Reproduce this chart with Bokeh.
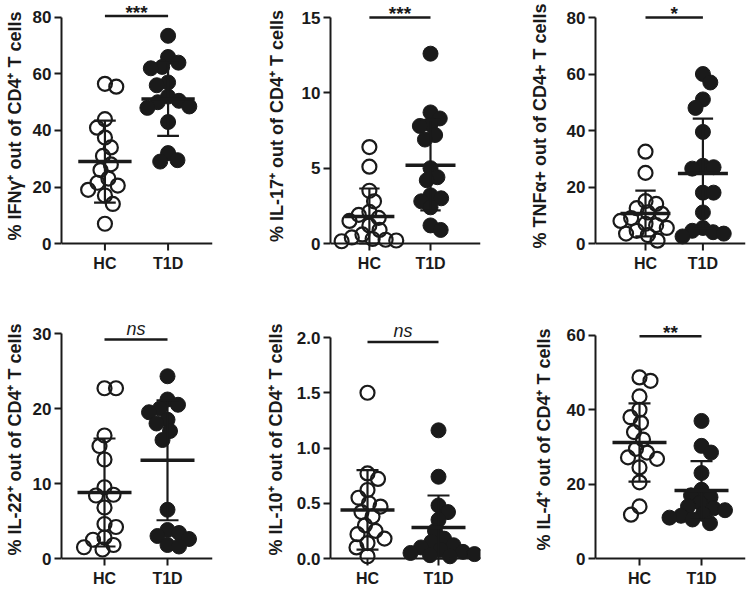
import numpy as np
from bokeh.plotting import figure
from bokeh.layouts import gridplot
from bokeh.models import FixedTicker, Range1d, Span
from bokeh.core.properties import value
from bokeh.embed import file_html
from bokeh.resources import INLINE

# ---------------- data ----------------
groups = ["HC", "T1D"]

ifng_hc = [56.5, 55.5, 44, 41, 37.5, 34, 31, 28, 26, 23, 21.5, 20.5, 19, 17, 14, 7]
ifng_t1d = [73.5, 66, 64, 62.5, 62, 57, 56, 52, 50.5, 50, 48.5, 48, 43, 32, 29.5, 29]

il17_hc = [6.4, 5.1, 3.5, 2.8, 2.1, 1.9, 1.7, 1.5, 1.2, 0.9, 0.6, 0.4, 0.3, 0.25, 0.2, 0.15]
il17_t1d = [12.6, 8.7, 8.3, 7.9, 7.8, 7.2, 6.9, 5.0, 4.4, 4.2, 3.2, 3.0, 2.8, 2.4, 1.2, 0.9]

tnfa_hc = [32.5, 25, 15, 14, 12.5, 11, 10.5, 9, 8, 7, 6.5, 5.5, 4.5, 3.5, 3, 1]
tnfa_t1d = [60, 57, 51, 48, 39.5, 27.5, 27, 26.5, 18, 18, 11, 5.5, 4.5, 4, 3.5, 2.5]

il22_hc = [22.7, 22.7, 16.4, 15, 13.2, 9.5, 8.5, 8.4, 6.8, 4.6, 4.2, 2.8, 2.5, 1.8, 1.5, 1.2]
il22_t1d = [24.3, 21.2, 20.5, 20.0, 19.5, 18.5, 18, 17, 15.8, 6.5, 3.8, 3.4, 3.0, 2.6, 1.8, 1.6]

il10_hc = [1.5, 0.77, 0.72, 0.62, 0.55, 0.5, 0.47, 0.42, 0.38, 0.3, 0.25, 0.22, 0.18, 0.14, 0.1, 0.02]
il10_t1d = [1.16, 0.74, 0.48, 0.42, 0.35, 0.25, 0.18, 0.15, 0.12, 0.1, 0.08, 0.06, 0.05, 0.04, 0.03, 0.02]

il4_hc = [48.7, 47.8, 43.6, 40, 38, 36.5, 34, 32, 29.5, 28.5, 27.2, 26.8, 24.5, 20.5, 14, 11.8]
il4_t1d = [37, 30.3, 28.5, 23, 18.5, 17, 16.5, 15, 14, 13.5, 13, 12, 11.5, 11, 10.5, 9.5]

# group means and SD bars (HC, T1D)
means = [[29.0, 51.1], [1.8, 5.2], [10.6, 24.8], [8.8, 13.1], [0.44, 0.28], [31.2, 18.3]]
sds = [[14.5, 13.0], [1.85, 3.0], [8.1, 19.4], [7.2, 8.0], [0.36, 0.29], [10.5, 7.9]]

y_labels = [
    "% IFNγ⁺ out of CD4⁺ T cells",
    "% IL-17⁺ out of CD4⁺ T cells",
    "% TNFα+ out of CD4+ T cells",
    "% IL-22⁺ out of CD4⁺ T cells",
    "% IL-10⁺ out of CD4⁺ T cells",
    "% IL-4⁺ out of CD4⁺ T cells",
]
y_ticks = [[0, 20, 40, 60, 80], [0, 5, 10, 15], [0, 20, 40, 60, 80],
           [0, 10, 20, 30], [0, 0.5, 1.0, 1.5, 2.0], [0, 20, 40, 60]]
y_tick_labels = [["0", "20", "40", "60", "80"], ["0", "5", "10", "15"],
                 ["0", "20", "40", "60", "80"], ["0", "10", "20", "30"],
                 ["0.0", "0.5", "1.0", "1.5", "2.0"], ["0", "20", "40", "60"]]
sig_text = ["***", "***", "*", "ns", "ns", "**"]
sig_level = [80.5, 15.0, 80.0, 29.2, 1.96, 59.8]

data = [(ifng_hc, ifng_t1d), (il17_hc, il17_t1d), (tnfa_hc, tnfa_t1d),
        (il22_hc, il22_t1d), (il10_hc, il10_t1d), (il4_hc, il4_t1d)]

# ---------------- layout / style (pixels inside each figure) ----------------
layout = [
    dict(w=250, h=292, frame_top=0, axis=60, hc=104, t1d=168, end=213, top_px=17, zero_px=244, lab_standoff=5),
    dict(w=247, h=292, frame_top=0, axis=80, hc=122, t1d=188, end=242, top_px=17, zero_px=243, lab_standoff=12),
    dict(w=250, h=292, frame_top=0, axis=88, hc=142, t1d=204, end=250, top_px=17, zero_px=243, lab_standoff=14),
    dict(w=250, h=297, frame_top=20, axis=61, hc=104, t1d=167, end=212, top_px=41, zero_px=266, lab_standoff=5),
    dict(w=247, h=297, frame_top=20, axis=80, hc=117, t1d=188, end=230, top_px=45, zero_px=266, lab_standoff=8),
    dict(w=250, h=297, frame_top=20, axis=98, hc=142, t1d=204, end=248, top_px=43, zero_px=267, lab_standoff=10),
]
BELOW_ZERO = 8      # frame extends this many px below y=0 so dots at 0 are not clipped
INK = "#1a1a1a"
FONT = value("Liberation Sans")


def swarm(vals, xpp, ypp, d=11.5):
    """Beeswarm offsets (data units) so dots do not overlap too much."""
    vals = np.asarray(vals, dtype=float)
    order = np.argsort(-vals)
    placed = []
    offs = np.zeros(len(vals))
    side = 1
    for i in order:
        y = vals[i] * ypp
        best = None
        k = 0
        while best is None:
            cands = [0.0] if k == 0 else [side * k * 0.5, -side * k * 0.5]
            for xo in cands:
                if all((xo - px) ** 2 + (y - py) ** 2 >= d * d for px, py in placed):
                    best = xo
                    break
            k += 1
        if best != 0:
            side = -side
        placed.append((best, y))
        offs[i] = best / xpp
    return offs


figs = []
for idx in range(6):
    L = layout[idx]
    hc_vals, t1d_vals = data[idx]
    top_val = y_ticks[idx][-1]
    xpp = L["t1d"] - L["hc"]
    ypp = (L["zero_px"] - L["top_px"]) / top_val
    x0 = 1 - (L["hc"] - L["axis"]) / xpp
    x1 = 2 + (L["end"] - L["t1d"]) / xpp
    y1 = top_val + (L["top_px"] - L["frame_top"]) / ypp
    y0 = -BELOW_ZERO / ypp
    frame_bottom = L["zero_px"] + BELOW_ZERO

    p = figure(width=L["w"], height=L["h"], output_backend="svg", toolbar_location=None,
               x_range=Range1d(x0, x1), y_range=Range1d(y0, y1),
               min_border_left=L["axis"], min_border_right=L["w"] - L["end"],
               min_border_top=L["frame_top"], min_border_bottom=L["h"] - frame_bottom)
    p.outline_line_color = None
    p.xgrid.visible = False
    p.ygrid.visible = False
    p.background_fill_color = "white"
    p.border_fill_color = "white"

    # y axis
    ya = p.yaxis[0]
    ya.ticker = FixedTicker(ticks=y_ticks[idx])
    ya.major_label_overrides = {t: s for t, s in zip(y_ticks[idx], y_tick_labels[idx])}
    ya.bounds = (0, top_val)
    ya.axis_label = y_labels[idx]
    ya.axis_label_text_font = "Liberation Sans"
    ya.axis_label_text_font_style = "bold"
    ya.axis_label_text_font_size = "18px"
    ya.axis_label_text_color = INK
    ya.axis_label_standoff = L["lab_standoff"]
    ya.major_label_text_font = "Liberation Sans"
    ya.major_label_text_font_style = "bold"
    ya.major_label_text_font_size = "17px"
    ya.major_label_text_color = INK
    ya.major_label_standoff = 3
    ya.major_tick_out = 7
    ya.major_tick_in = 0
    ya.minor_tick_out = 0
    ya.minor_tick_in = 0
    ya.axis_line_width = 2
    ya.major_tick_line_width = 2
    ya.axis_line_color = INK
    ya.major_tick_line_color = INK

    # x axis: the bokeh axis (below the frame) carries only the group labels;
    # its line and ticks are drawn at y = 0
    xa = p.xaxis[0]
    xa.ticker = FixedTicker(ticks=[1, 2])
    xa.major_label_overrides = {i + 1: g for i, g in enumerate(groups)}
    xa.axis_line_color = None
    xa.major_tick_line_color = None
    xa.minor_tick_line_color = None
    xa.major_tick_out = 0
    xa.major_tick_in = 0
    xa.minor_tick_out = 0
    xa.minor_tick_in = 0
    xa.major_label_standoff = 3
    xa.major_label_text_font = "Liberation Sans"
    xa.major_label_text_font_style = "bold"
    xa.major_label_text_font_size = "16px"
    xa.major_label_text_color = INK
    p.add_layout(Span(location=0, dimension="width", line_color=INK, line_width=2))
    p.segment([1, 2], [0, 0], [1, 2], [-7 / ypp, -7 / ypp], line_color=INK, line_width=2)

    # points
    hc_x = 1 + swarm(hc_vals, xpp, ypp)
    t1d_x = 2 + swarm(t1d_vals, xpp, ypp)
    p.scatter(hc_x, hc_vals, size=14, fill_alpha=0, line_color=INK, line_width=2.2)
    p.scatter(t1d_x, t1d_vals, size=15, fill_color=INK, line_color=INK, line_width=1)

    # mean and SD
    hw = 27 / xpp
    cw = 11 / xpp
    gx = np.array([1.0, 2.0])
    m = np.array(means[idx])
    s = np.array(sds[idx])
    lo = np.maximum(m - s, 0)
    hi = m + s
    p.segment(gx, lo, gx, hi, line_color=INK, line_width=2.2)
    p.segment(np.r_[gx, gx] - cw, np.r_[lo, hi], np.r_[gx, gx] + cw, np.r_[lo, hi],
              line_color=INK, line_width=2.2)
    p.segment(gx - hw, m, gx + hw, m, line_color=INK, line_width=3.5)

    # significance
    lev = sig_level[idx]
    p.segment([1], [lev], [2], [lev], line_color=INK, line_width=2.5)
    if sig_text[idx] == "ns":
        p.text([1.5], [lev], text=[sig_text[idx]], text_align="center",
               text_baseline="alphabetic", y_offset=-11, text_font=FONT,
               text_font_style="italic", text_font_size="18px", text_color=INK)
    else:
        p.text([1.5], [lev], text=[sig_text[idx]], text_align="center",
               text_baseline="alphabetic", y_offset=-4, text_font=FONT,
               text_font_style="bold", text_font_size="19px", text_color=INK)
    figs.append(p)

grid = gridplot([figs[0:3], figs[3:6]], toolbar_location=None)

open("out.html", "w").write(file_html(grid, INLINE))
